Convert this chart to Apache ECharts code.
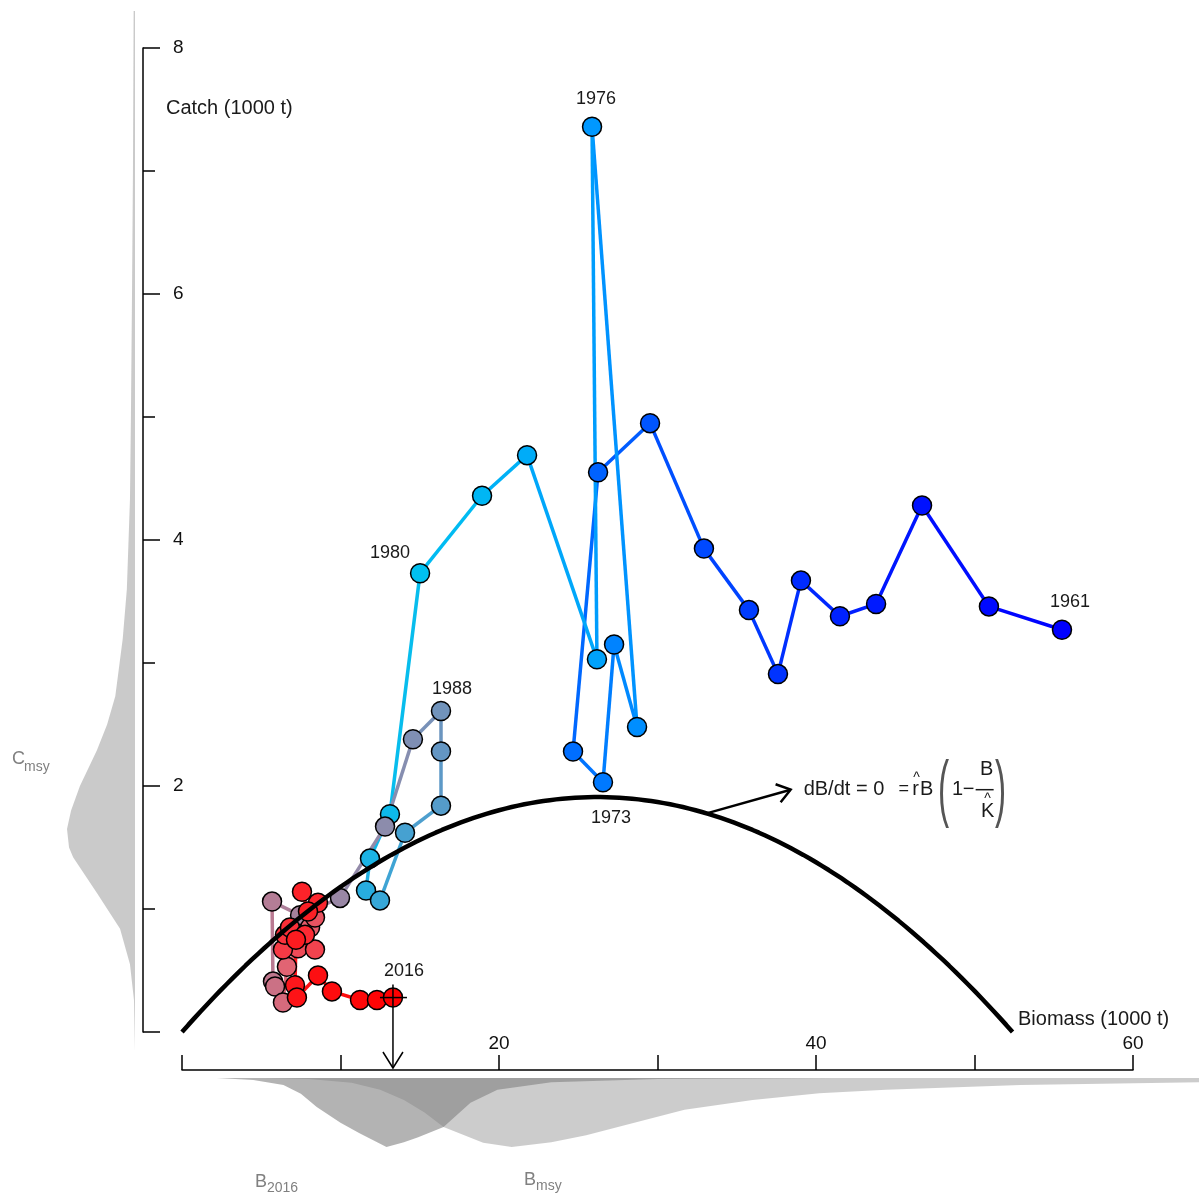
<!DOCTYPE html>
<html><head><meta charset="utf-8">
<script src="https://cdn.jsdelivr.net/npm/echarts@6/dist/echarts.min.js"></script>
<style>html,body{margin:0;padding:0;background:#fff}#c{width:1199px;height:1196px}</style>
</head><body><div id="c"></div>
<script>
// ---------------- data ----------------
const years = [1961,1962,1963,1964,1965,1966,1967,1968,1969,1970,1971,1972,1973,1974,1975,1976,1977,1978,1979,1980,
  1981,1982,1983,1984,1985,1986,1987,1988,1989,1990,1991,1992,1993,1994,1995,1996,1997,1998,1999,2000,
  2001,2002,2003,2004,2005,2006,2007,2008,2009,2010,2011,2012,2013,2014,2015,2016];
const biomass = [55.52,50.91,46.69,43.79,41.51,39.05,37.60,35.77,32.93,29.53,26.25,24.67,26.56,27.26,28.71,25.87,26.18,21.77,18.93,15.02,
  13.12,11.86,11.61,12.49,14.07,16.34,16.34,16.34,14.57,12.81,9.97,7.45,5.68,5.74,5.87,6.37,6.62,8.08,8.39,7.32,
  8.39,6.37,6.50,6.81,7.76,8.58,7.57,7.95,7.19,7.13,7.25,8.58,9.46,11.23,12.30,13.31];
const catches = [3.27,3.46,4.28,3.48,3.38,3.67,2.91,3.43,3.93,4.95,4.55,2.28,2.03,3.15,2.48,7.36,3.03,4.69,4.36,3.73,
  1.77,1.41,1.15,1.07,1.62,1.84,2.28,2.61,2.38,1.67,1.09,0.95,1.06,0.41,0.37,0.24,0.53,0.85,0.93,0.68,
  0.67,0.67,0.79,0.85,0.79,1.05,1.14,0.98,0.75,0.38,0.28,0.46,0.33,0.26,0.26,0.28];
const labelYears = [1961,1973,1976,1980,1988,2016];
const xTickLabels = [20,40,60];
const yTickLabels = [2,4,6,8];
// surplus production model estimates
const rHat = 0.1458;
const KHat = 52.4;
// Cmsy posterior density (left margin): catch value, relative density
const cmsyCatch = [-0.15,0.26,0.55,0.84,1.13,1.42,1.5,1.65,1.8,2.0,2.29,2.5,2.73,3.2,3.6,4.33,5.0,6.0,7.0,8.3];
const cmsyDens  = [0,0.015,0.074,0.22,0.56,0.91,0.97,1,0.94,0.81,0.56,0.41,0.29,0.18,0.12,0.074,0.06,0.044,0.03,0.02];
// B2016 posterior density (bottom margin)
const b2016X    = [2.2,4.5,6.4,7.5,8.5,10.0,11.2,12.9,14.0,14.9,16.5,18.2,19.9,23.3,30.0,41.0];
const b2016Dens = [0,0.03,0.1,0.23,0.42,0.65,0.8,1,0.93,0.86,0.71,0.36,0.17,0.06,0.015,0];
// Bmsy posterior density (bottom margin)
const bmsyX    = [5.2,8.0,10.7,12.5,14.0,15.3,16.5,19.0,20.8,23.3,25.5,27.5,31.7,36.0,40.2,44.4,52.9,64.2];
const bmsyDens = [0,0.015,0.07,0.17,0.32,0.5,0.71,0.94,1,0.93,0.83,0.71,0.46,0.32,0.22,0.17,0.1,0.06];
// equation arrow: from curve at this biomass to this point
const arrowStartB = 33.1;
const arrowEnd = [38.4, 1.97];

// ---------------- style ----------------
const FONT = '"Liberation Sans", Arial, sans-serif';
const colorStops = [
  [1961,[0,0,255]],[1968,[0,60,255]],[1972,[0,110,255]],[1976,[0,152,255]],[1980,[0,192,240]],
  [1983,[40,172,222]],[1987,[100,150,195]],[1990,[140,140,172]],[1993,[180,125,150]],
  [1997,[225,100,115]],[2003,[250,50,60]],[2016,[255,0,0]]
];
function yearRGB(y){
  for (let i=1;i<colorStops.length;i++){
    const [y0,c0]=colorStops[i-1],[y1,c1]=colorStops[i];
    if (y<=y1){const t=(y-y0)/(y1-y0);return c0.map((v,k)=>Math.round(v+(c1[k]-v)*t));}
  }
  return colorStops[colorStops.length-1][1];
}
const rgb = c => `rgb(${c[0]},${c[1]},${c[2]})`;
const labelOffsets = {1961:[8,-28],1973:[8,36],1976:[4,-28],1980:[-30,-20],1988:[11,-22],2016:[11,-27]};

// ---------------- series building ----------------
const segData = [];
for (let i=1;i<years.length;i++){
  const a=yearRGB(years[i-1]), b=yearRGB(years[i]);
  segData.push({coords:[[biomass[i-1],catches[i-1]],[biomass[i],catches[i]]],
    lineStyle:{color:rgb(a.map((v,k)=>Math.round((v+b[k])/2)))}});
}
const pointData = years.map((y,i)=>{
  const item = {value:[biomass[i],catches[i]], itemStyle:{color:rgb(yearRGB(y))}};
  if (labelYears.includes(y)) item.label = {show:true, formatter:String(y), position:'inside',
     offset:labelOffsets[y], color:'#1a1a1a', fontSize:18, fontFamily:FONT};
  return item;
});
const curveData = [];
for (let b=0;b<KHat;b+=0.4) curveData.push([b, rHat*b*(1-b/KHat)]);
curveData.push([KHat,0]);

function densityPolygon(xIdx,yIdx,pts,base,color,z){
  return {type:'custom', xAxisIndex:xIdx, yAxisIndex:yIdx, clip:false, silent:true, z:z,
    data:[[0,0]],
    renderItem:(params,api)=>({type:'polygon', shape:{points:pts.concat(base).map(p=>api.coord(p))},
      style:{fill:color}})};
}
const cmsyPts = cmsyCatch.map((c,i)=>[cmsyDens[i],c]);
const b2016Pts = b2016X.map((x,i)=>[x,b2016Dens[i]]);
const bmsyPts = bmsyX.map((x,i)=>[x,bmsyDens[i]]);

const option = {
  animation:false,
  backgroundColor:'#fff',
  grid:[
    {left:182, top:48, width:951, height:984},
    {left:67, top:48, width:68, height:984},
    {left:182, top:1078, width:1017, height:69},
    {left:143, top:48, width:990, height:984},
    {left:143, top:48, width:990, height:984}
  ],
  xAxis:[
    {gridIndex:0, type:'value', min:0, max:60, interval:10, offset:38,
     axisLine:{show:true, onZero:false, lineStyle:{color:'#000', width:1.5}},
     axisTick:{show:true, inside:true, length:15, lineStyle:{color:'#000', width:1.5}},
     axisLabel:{inside:true, margin:17, fontSize:19, color:'#111', fontFamily:FONT,
       formatter:v=>xTickLabels.includes(v)?String(v):''},
     splitLine:{show:false}},
    {gridIndex:1, type:'value', min:0, max:1, inverse:true, show:false},
    {gridIndex:2, type:'value', min:0, max:64.16, show:false},
    {gridIndex:3, type:'value', min:0, max:1, show:false},
    {gridIndex:4, type:'value', min:0, max:1, show:false}
  ],
  yAxis:[
    {gridIndex:0, type:'value', min:0, max:8, show:false},
    {gridIndex:1, type:'value', min:0, max:8, show:false},
    {gridIndex:2, type:'value', min:0, max:1, inverse:true, show:false},
    {gridIndex:3, type:'value', min:0, max:8, interval:2, position:'left',
     axisLine:{show:true, onZero:false, lineStyle:{color:'#000', width:1.5}},
     axisTick:{show:true, inside:true, length:17, lineStyle:{color:'#000', width:1.5}},
     axisLabel:{inside:true, margin:30, fontSize:19, color:'#111', fontFamily:FONT,
       formatter:v=>yTickLabels.includes(v)?String(v):''},
     splitLine:{show:false}},
    {gridIndex:4, type:'value', min:0, max:8, interval:1, position:'left',
     axisLine:{show:false, onZero:false},
     axisTick:{show:true, inside:true, length:12, lineStyle:{color:'#000', width:1.5}},
     axisLabel:{show:false}, splitLine:{show:false}}
  ],
  series:[
    densityPolygon(1,1,cmsyPts,[[0,cmsyCatch[cmsyCatch.length-1]],[0,cmsyCatch[0]]],'rgba(128,128,128,0.42)',1),
    densityPolygon(2,2,bmsyPts,[[bmsyX[bmsyX.length-1],0],[bmsyX[0],0]],'rgba(128,128,128,0.4)',1),
    densityPolygon(2,2,b2016Pts,[[b2016X[b2016X.length-1],0],[b2016X[0],0]],'rgba(128,128,128,0.6)',1),
    {type:'lines', coordinateSystem:'cartesian2d', xAxisIndex:0, yAxisIndex:0, z:2, silent:true,
     lineStyle:{width:3.5, opacity:1}, data:segData},
    {type:'scatter', xAxisIndex:0, yAxisIndex:0, z:3, symbol:'circle', symbolSize:19, silent:true,
     itemStyle:{borderColor:'#000', borderWidth:1.5, opacity:1}, data:pointData},
    {type:'line', xAxisIndex:0, yAxisIndex:0, z:10, showSymbol:false, silent:true, smooth:false,
     lineStyle:{color:'#000', width:4.5}, data:curveData},
    {type:'custom', xAxisIndex:0, yAxisIndex:0, z:11, silent:true, clip:false,
     data:[[arrowStartB, rHat*arrowStartB*(1-arrowStartB/KHat), arrowEnd[0], arrowEnd[1]]],
     renderItem:(params,api)=>{
       const s=api.coord([api.value(0),api.value(1)]), e=api.coord([api.value(2),api.value(3)]);
       const ang=Math.atan2(e[1]-s[1],e[0]-s[0]), L=16, A=0.62;
       const w1=[e[0]-L*Math.cos(ang-A),e[1]-L*Math.sin(ang-A)];
       const w2=[e[0]-L*Math.cos(ang+A),e[1]-L*Math.sin(ang+A)];
       return {type:'group',children:[
         {type:'line',shape:{x1:s[0],y1:s[1],x2:e[0],y2:e[1]},style:{stroke:'#000',lineWidth:2.5}},
         {type:'polyline',shape:{points:[w1,e,w2]},style:{stroke:'#000',lineWidth:2.5,fill:null}}]};
     }},
    {type:'custom', xAxisIndex:0, yAxisIndex:0, z:12, silent:true, clip:false,
     data:[[biomass[biomass.length-1], catches[catches.length-1]]],
     renderItem:(params,api)=>{
       const p=api.coord([api.value(0),api.value(1)]);
       const base=api.coord([0,0])[1]+36;
       return {type:'group',children:[
         {type:'line',shape:{x1:p[0]-13,y1:p[1],x2:p[0]+14,y2:p[1]},style:{stroke:'#000',lineWidth:1.5}},
         {type:'line',shape:{x1:p[0],y1:p[1]-13,x2:p[0],y2:base},style:{stroke:'#000',lineWidth:1.5}},
         {type:'polyline',shape:{points:[[p[0]-10,base-16],[p[0],base],[p[0]+10,base-16]]},
          style:{stroke:'#000',lineWidth:1.5,fill:null}}]};
     }}
  ]
};

const chart = echarts.init(document.getElementById('c'));
chart.setOption(option);

// ---------------- annotations ----------------
const tip = chart.convertToPixel({xAxisIndex:0,yAxisIndex:0}, arrowEnd);
const x0 = tip[0]+13, y0 = tip[1];
const T = (text,x,y,size,opts={}) => Object.assign({type:'text', x:x, y:y, silent:true, z:20,
  style:{text:text, font:`${size}px ${FONT}`, fill:opts.fill||'#1a1a1a', align:opts.align||'left',
         verticalAlign:'middle'}}, opts.extra||{});
const graphics = [
  T('Catch (1000 t)',166,108,20),
  T('Biomass (1000 t)',1018,1019,20),
  T('C',12,759,18,{fill:'#808080'}),
  T('msy',24,767,14,{fill:'#808080'}),
  T('B',255,1182,18,{fill:'#808080'}),
  T('2016',267,1188,14,{fill:'#808080'}),
  T('B',524,1180,18,{fill:'#808080'}),
  T('msy',536,1186,14,{fill:'#808080'}),
  // equation
  T('dB/dt = 0',x0,y0,20),
  T('=',x0+100,y0-1,18,{align:'center'}),
  T('r',x0+112,y0,20,{align:'center'}),
  T('^',x0+113,y0-12,14,{align:'center'}),
  T('B',x0+123,y0,20,{align:'center'}),
  T('(',x0+140,y0+3,74,{align:'center',fill:'#555',extra:{scaleX:0.45}}),
  T('1',x0+154,y0,20,{align:'center'}),
  T('\u2212',x0+165,y0,20,{align:'center'}),
  {type:'line', silent:true, z:20, shape:{x1:x0+172,y1:y0,x2:x0+190,y2:y0}, style:{stroke:'#1a1a1a',lineWidth:1.5}},
  T('B',x0+183,y0-20,20,{align:'center'}),
  T('^',x0+184,y0+9,14,{align:'center'}),
  T('K',x0+184,y0+22,20,{align:'center'}),
  T(')',x0+197,y0+3,74,{align:'center',fill:'#555',extra:{scaleX:0.45}})
];
chart.setOption({graphic: graphics});
</script>
</body></html>
